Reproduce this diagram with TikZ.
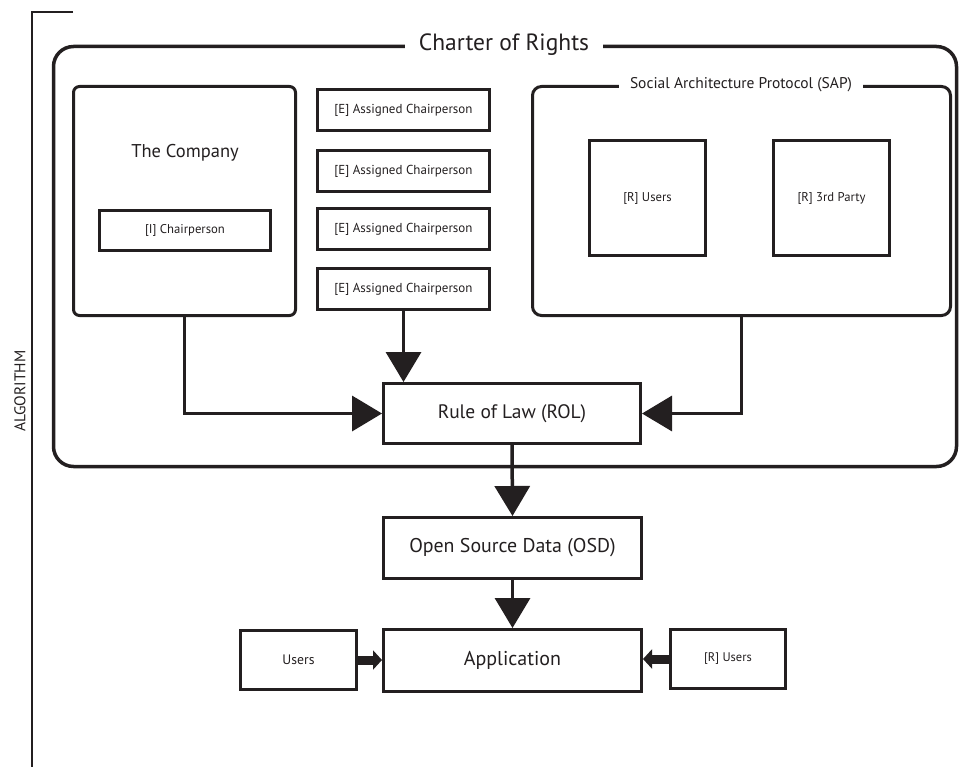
\documentclass[tikz,border=0pt]{standalone}
\usepackage{fontspec}
\setmainfont{PT Sans}
\usetikzlibrary{arrows.meta}
\definecolor{ink}{RGB}{35,31,32}

\begin{document}
\begin{tikzpicture}[
			x=1pt, y=-1pt,
			every node/.style = {text=ink},
			txt/.style = {font=\fontsize{#1}{#1}\selectfont},
			box/.style = {draw=ink, line width=3pt, inner sep=0pt},
			frame/.style = {box, rounded corners=#1},
			title/.style = {fill=white, inner xsep=14pt, inner ysep=2pt},
			flow/.style = {draw=ink, line width=3.5pt, -{Triangle[length=30pt,width=35pt]}},
			side/.style = {draw=ink, line width=9pt, -{Triangle[length=9pt,width=19pt]}},
			]
			\useasboundingbox (0,0) rectangle (960,767);
			\draw[ink, line width=1.2pt] (73,12) -- (32,12) -- (32,767);
			\node[rotate=90, txt=15.5] (algo) at (20,391) {ALGORITHM};

			\node[frame=20pt, line width=3.5pt, minimum width=903pt, minimum height=420pt] (charter) at (505,256.5) {};
			\node[title, txt=23.5] (chartertitle) at (504,45) {Charter of Rights};

			\node[frame=6pt, minimum width=222pt, minimum height=229pt] (company) at (184.5,201) {};
			\node[txt=18.5] (companytitle) at (185,153) {The Company};
			\node[box, minimum width=171pt, minimum height=40pt, txt=12.7] (chair) at (185,230.5) {[I] Chairperson};

			\foreach \i/\y in {1/110.5, 2/171, 3/229, 4/289}
				\node[box, minimum width=172pt, minimum height=41pt, txt=13] (ac\i) at (403.5,\y) {[E] Assigned Chairperson};

			\node[frame=9pt, minimum width=418pt, minimum height=229pt] (sap) at (741.5,201) {};
			\node[title, txt=15.5, inner xsep=11pt] (saptitle) at (741,85) {Social Architecture Protocol (SAP)};
			\node[box, minimum width=116pt, minimum height=115pt, txt=12.7] (rusers) at (647.5,198) {[R] Users};
			\node[box, minimum width=116pt, minimum height=115pt, txt=12.7] (third) at (831.5,198) {[R] 3rd Party};

			\node[box, minimum width=257pt, minimum height=60pt, txt=19.5] (rol) at (512,413.5) {Rule of Law (ROL)};
			\node[box, minimum width=258pt, minimum height=61pt, txt=19.9] (osd) at (512.5,548) {Open Source Data (OSD)};
			\node[box, minimum width=258pt, minimum height=62pt, txt=20] (app) at (512.5,660.5) {Application};
			\node[box, minimum width=116pt, minimum height=59pt, txt=13.7] (users) at (298.5,660) {Users};
			\node[box, minimum width=115pt, minimum height=59pt, txt=12.5] (appusers) at (728,659) {[R] Users};

			\draw[flow] (company.south) |- (rol.west);
			\draw[flow] (ac4.south) -- (ac4.south |- rol.north);
			\draw[flow] (sap.south) |- (rol.east);
			\draw[flow] (rol.south) -- (osd.north);
			\draw[flow] (osd.south) -- (app.north);
			\draw[side] (users.east) -- (users.east -| app.west);
			\draw[side] (appusers.west) -- (appusers.west -| app.east);
		\end{tikzpicture}
\end{document}
